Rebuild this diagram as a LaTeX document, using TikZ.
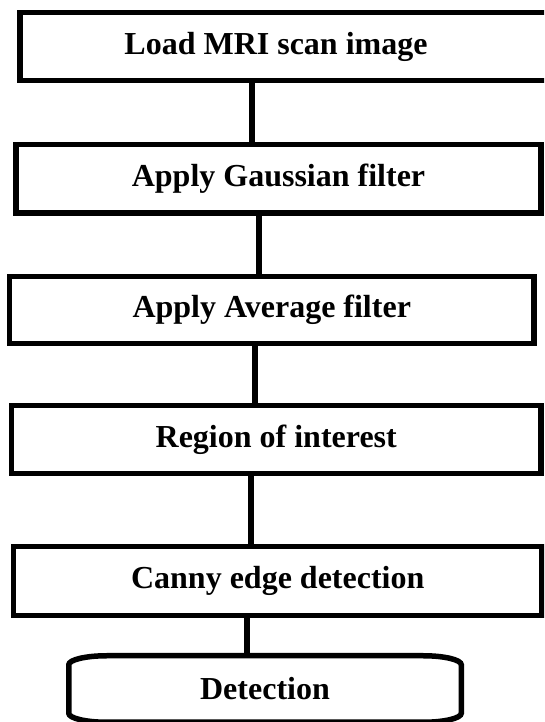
\documentclass[tikz,border=0pt]{standalone}
\usepackage{fontspec}
\setmainfont{Liberation Serif}
\usepackage{tikz}

\tikzset{
    stage/.style={draw, line width=5.5pt, minimum height=68pt, inner sep=0pt,
        font=\fontsize{32}{36}\selectfont\bfseries},
    link/.style={line width=6pt}
}

\begin{document}
\begin{tikzpicture}[x=1pt, y=1pt]
    \useasboundingbox (0,0) rectangle (544,722);
    \clip (0,0) rectangle (544,722);

    % Processing steps
    \node[stage, minimum width=532pt] (load) at (286,675.5) {\hspace*{-20pt}Load MRI scan image};
    \node[stage, minimum width=525pt, minimum height=68.5pt] (gauss) at (278.5,543.25) {Apply Gaussian filter};
    \node[stage, minimum width=524.5pt, minimum height=67pt] (avg) at (271.75,412) {Apply Average filter};
    \node[stage, minimum width=529.5pt] (roi) at (276.25,282.5) {Region of interest};
    \node[stage, minimum width=528.5pt, minimum height=69pt] (canny) at (277.75,141) {Canny edge detection};

    % Terminal step, border drawn round it
    \node[stage, draw=none, minimum width=387pt, minimum height=61pt] (detect) at (265,33) {Detection};
    \draw[line width=5.5pt] ([xshift=38pt]detect.north west) -- ([xshift=-38pt]detect.north east)
        arc[start angle=90, end angle=0, x radius=38pt, y radius=9pt]
        -- ([yshift=9pt]detect.south east)
        arc[start angle=0, end angle=-90, x radius=38pt, y radius=9pt]
        -- ([xshift=38pt]detect.south west)
        arc[start angle=270, end angle=180, x radius=38pt, y radius=9pt]
        -- ([yshift=-9pt]detect.north west)
        arc[start angle=180, end angle=90, x radius=38pt, y radius=9pt] -- cycle;

    % Links
    \draw[link] ([xshift=-34pt]load.south) -- ([xshift=-26.5pt]gauss.north);
    \draw[link] ([xshift=-20pt]gauss.south) -- ([xshift=-13.25pt]avg.north);
    \draw[link] ([xshift=-16.75pt]avg.south) -- ([xshift=-21.25pt]roi.north);
    \draw[link] ([xshift=-25.75pt]roi.south) -- ([xshift=-27.25pt]canny.north);
    \draw[link] ([xshift=-30.75pt]canny.south) -- ([xshift=-18pt]detect.north);
\end{tikzpicture}
\end{document}
